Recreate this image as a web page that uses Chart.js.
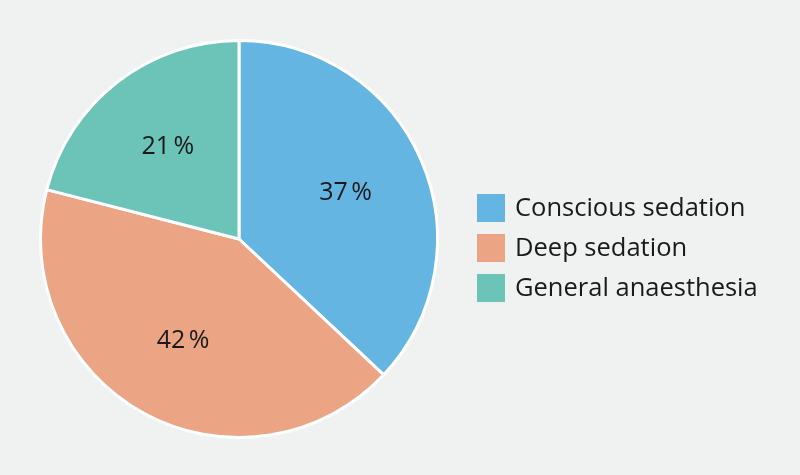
<!DOCTYPE html>
<html>
<head>
<meta charset="utf-8">
<script src="https://cdn.jsdelivr.net/npm/chart.js@4/dist/chart.umd.min.js"></script>
<style>
  html, body { margin: 0; padding: 0; background: #f0f1f1; }
  #wrap { width: 800px; height: 475px; position: relative; }
</style>
</head>
<body>
<div id="wrap"><canvas id="chart" width="800" height="475"></canvas></div>
<script>
// données
const categories = ["Conscious sedation", "Deep sedation", "General anaesthesia"]
const valeurs = [37, 42, 21]
const couleurs = ["#64b5e2", "#eba584", "#6cc3b8"]

const FONT = "'Open Sans', sans-serif"

// étiquettes en % dans les parts + légende à droite
const pieLabels = {
  id: "pieLabels",
  afterDatasetsDraw(chart) {
    const ctx = chart.ctx
    const meta = chart.getDatasetMeta(0)
    ctx.save()
    ctx.font = "25px " + FONT
    ctx.fillStyle = "#1a1a1a"
    ctx.textAlign = "center"
    ctx.textBaseline = "middle"
    meta.data.forEach((arc, i) => {
      const p = arc.getProps(["x", "y", "startAngle", "endAngle", "outerRadius"], true)
      const mid = (p.startAngle + p.endAngle) / 2
      const r = p.outerRadius * 0.585
      ctx.fillText(valeurs[i] + "\u202F%", p.x + Math.cos(mid) * r, p.y + Math.sin(mid) * r)
    })

    // légende
    ctx.font = "25.5px " + FONT
    ctx.textAlign = "left"
    for (let i = 0; i < categories.length; i++) {
      const y = 208 + i * 40
      ctx.fillStyle = couleurs[i]
      ctx.fillRect(477, y - 14, 28, 28)
      ctx.fillStyle = "#1a1a1a"
      ctx.fillText(categories[i], 515, y + 1)
    }
    ctx.restore()
  },
}

new Chart(document.querySelector("#chart"), {
  type: "pie",
  data: {
    labels: categories,
    datasets: [
      {
        data: valeurs,
        backgroundColor: couleurs,
        borderColor: "#ffffff",
        borderWidth: 3,
      },
    ],
  },
  options: {
    responsive: false,
    animation: false,
    layout: { padding: { left: 39, top: 39, right: 361, bottom: 36 } },
    plugins: {
      legend: { display: false },
      tooltip: { enabled: false },
    },
  },
  plugins: [pieLabels],
})
</script>
</body>
</html>
